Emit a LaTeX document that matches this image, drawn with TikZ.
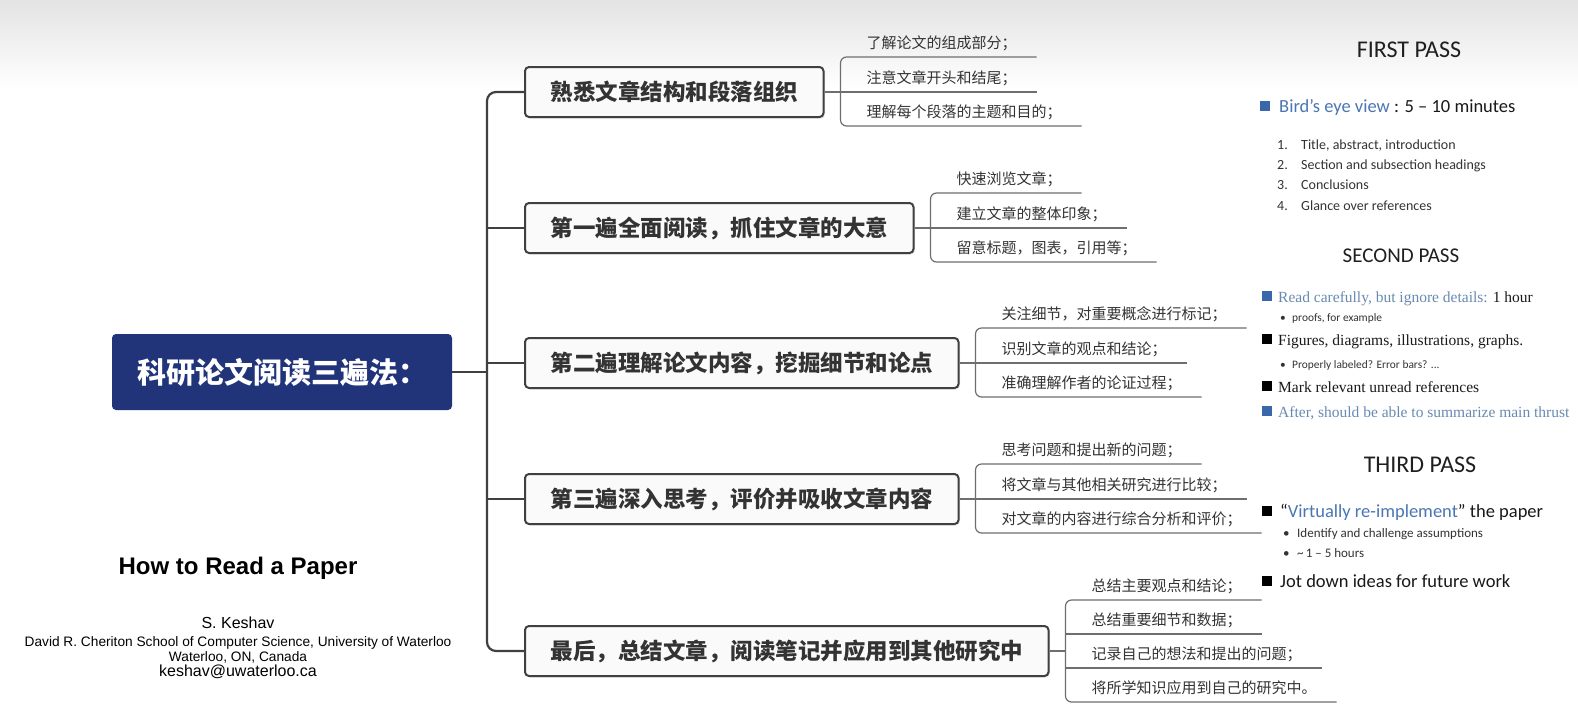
\documentclass[tikz,border=0pt]{standalone}
\usepackage{fontspec}
\usepackage{tikz}
\usetikzlibrary{positioning,shadows}
\newfontfamily\cjk{Noto Sans CJK SC}
\newfontfamily\calib{Carlito}
\newfontfamily\antiq{Liberation Serif}
\newfontfamily\helv{Liberation Sans}
\definecolor{rootblue}{RGB}{33,52,122}
\definecolor{linegrey}{RGB}{64,64,64}
\definecolor{twiggrey}{RGB}{110,110,110}
\definecolor{txtgrey}{RGB}{51,51,51}
\definecolor{slideblue}{RGB}{74,118,180}
\definecolor{serifblue}{RGB}{104,138,178}
\definecolor{sqblue}{RGB}{58,102,170}
\tikzset{
  rootbox/.style={fill=rootblue,rounded corners=4pt,text=white,minimum width=340pt,
                  minimum height=76pt,font=\cjk\bfseries\fontsize{29}{34}\selectfont},
  branchbox/.style={draw=linegrey,line width=2pt,fill=black!2,rounded corners=4pt,anchor=west,
                    minimum height=50pt,inner xsep=25.5pt,text=txtgrey,
                    font=\cjk\bfseries\fontsize{22.5}{27}\selectfont,
                    drop shadow={opacity=.18,shadow xshift=1.5pt,shadow yshift=-1.5pt}},
  stem/.style={draw=linegrey,line width=2.2pt,rounded corners=9pt},
  leaf/.style={anchor=south west,inner xsep=0pt,inner ysep=7pt,text depth=2pt,outer sep=0pt,
               text=txtgrey,font=\cjk\fontsize{15}{18}\selectfont},
  twig/.style={draw=twiggrey,line width=1.2pt,rounded corners=6pt},
  slidehead/.style={anchor=base,inner sep=0pt,text=black!88,font=\calib\fontsize{24}{28}\selectfont},
  bigline/.style={anchor=base west,inner sep=0pt,text=black!90,font=\calib\fontsize{18.5}{22}\selectfont},
  numline/.style={anchor=base west,inner sep=0pt,text=black!80,font=\calib\fontsize{14}{17}\selectfont},
  serifline/.style={anchor=base west,inner sep=0pt,text=black!90,font=\antiq\fontsize{15.5}{19}\selectfont},
  subline/.style={anchor=base west,inner sep=0pt,text=black!80,font=\calib\fontsize{11.4}{13}\selectfont},
  sq/.style={fill=#1,minimum size=10pt,inner sep=0pt},
  credit/.style={anchor=base,inner sep=0pt,text=black,font=\helv\fontsize{#1}{#1}\selectfont}
}

\begin{document}
\begin{tikzpicture}[x=1pt,y=-1pt]
  \useasboundingbox (0,0) rectangle (1578,721);
  \fill[white] (0,0) rectangle (1578,721);
  \shade[top color=black!11,bottom color=white] (0,0) rectangle (1578,88);

  % mind map
  \node[rootbox] (root) at (282,372) {科研论文阅读三遍法：};
  \node[branchbox] (b1) at (524,92) {熟悉文章结构和段落组织};
  \node[branchbox] (b2) at (524,228) {第一遍全面阅读，抓住文章的大意};
  \node[branchbox] (b3) at (524,363) {第二遍理解论文内容，挖掘细节和论点};
  \node[branchbox] (b4) at (524,499) {第三遍深入思考，评价并吸收文章内容};
  \node[branchbox] (b5) at (524,651) {最后，总结文章，阅读笔记并应用到其他研究中};

  \coordinate (tr) at (487,372);
  \draw[stem] (b1.west) -- (b1.west -| tr) -- (b5.west -| tr) -- (b5.west);
  \draw[stem] (b2.west -| tr) -- (b2.west);
  \draw[stem] (b3.west -| tr) -- (b3.west);
  \draw[stem] (b4.west -| tr) -- (b4.west);
  \draw[stem] (root.east) -- (root.east -| tr);

  % leaves of b1
  \node[leaf] (i11) at ([xshift=42pt,yshift=35pt]b1.east) {了解论文的组成部分；};
  \node[leaf] (i12) at ([xshift=42pt]b1.east) {注意文章开头和结尾；};
  \node[leaf] (i13) at ([xshift=42pt,yshift=-34pt]b1.east) {理解每个段落的主题和目的；};
  \coordinate (k1) at ([xshift=16pt]b1.east);
  \draw[twig] ([xshift=20pt]i11.south east) -- (k1 |- i11.south) -- (k1 |- i13.south) -- ([xshift=20pt]i13.south east);
  \draw[twig] (b1.east) -- ([xshift=20pt]i12.south east);

  % leaves of b2
  \node[leaf] (i21) at ([xshift=42pt,yshift=35pt]b2.east) {快速浏览文章；};
  \node[leaf] (i22) at ([xshift=42pt]b2.east) {建立文章的整体印象；};
  \node[leaf] (i23) at ([xshift=42pt,yshift=-34pt]b2.east) {留意标题，图表，引用等；};
  \coordinate (k2) at ([xshift=16pt]b2.east);
  \draw[twig] ([xshift=20pt]i21.south east) -- (k2 |- i21.south) -- (k2 |- i23.south) -- ([xshift=20pt]i23.south east);
  \draw[twig] (b2.east) -- ([xshift=20pt]i22.south east);

  % leaves of b3
  \node[leaf] (i31) at ([xshift=42pt,yshift=35pt]b3.east) {关注细节，对重要概念进行标记；};
  \node[leaf] (i32) at ([xshift=42pt]b3.east) {识别文章的观点和结论；};
  \node[leaf] (i33) at ([xshift=42pt,yshift=-34pt]b3.east) {准确理解作者的论证过程；};
  \coordinate (k3) at ([xshift=16pt]b3.east);
  \draw[twig] ([xshift=20pt]i31.south east) -- (k3 |- i31.south) -- (k3 |- i33.south) -- ([xshift=20pt]i33.south east);
  \draw[twig] (b3.east) -- ([xshift=20pt]i32.south east);

  % leaves of b4
  \node[leaf] (i41) at ([xshift=42pt,yshift=35pt]b4.east) {思考问题和提出新的问题；};
  \node[leaf] (i42) at ([xshift=42pt]b4.east) {将文章与其他相关研究进行比较；};
  \node[leaf] (i43) at ([xshift=42pt,yshift=-34pt]b4.east) {对文章的内容进行综合分析和评价；};
  \coordinate (k4) at ([xshift=16pt]b4.east);
  \draw[twig] ([xshift=20pt]i41.south east) -- (k4 |- i41.south) -- (k4 |- i43.south) -- ([xshift=20pt]i43.south east);
  \draw[twig] (b4.east) -- ([xshift=20pt]i42.south east);

  % leaves of b5
  \node[leaf] (i51) at ([xshift=42pt,yshift=51pt]b5.east) {总结主要观点和结论；};
  \node[leaf] (i52) at ([xshift=42pt,yshift=17pt]b5.east) {总结重要细节和数据；};
  \node[leaf] (i53) at ([xshift=42pt,yshift=-17pt]b5.east) {记录自己的想法和提出的问题；};
  \node[leaf] (i54) at ([xshift=42pt,yshift=-51pt]b5.east) {将所学知识应用到自己的研究中。};
  \coordinate (k5) at ([xshift=16pt]b5.east);
  \draw[twig] ([xshift=20pt]i51.south east) -- (k5 |- i51.south) -- (k5 |- i54.south) -- ([xshift=20pt]i54.south east);
  \draw[twig] (k5 |- i52.south) -- ([xshift=20pt]i52.south east);
  \draw[twig] (k5 |- i53.south) -- ([xshift=20pt]i53.south east);
  \draw[twig] (b5.east) -- (k5);

  % first pass
  \node[slidehead] (fp) at (1409,57) {FIRST PASS};
  \node[sq=sqblue] (fq) at (1265,106) {};
  \node[bigline] (fa) at (1279,112) {\textcolor{slideblue}{Bird’s eye view} : 5 – 10 minutes};
  \node[numline] (f1) at (1277,149) {\makebox[24pt][l]{1.}Title, abstract, introduction};
  \node[numline] (f2) at (1277,169) {\makebox[24pt][l]{2.}Section and subsection headings};
  \node[numline] (f3) at (1277,189) {\makebox[24pt][l]{3.}Conclusions};
  \node[numline] (f4) at (1277,210) {\makebox[24pt][l]{4.}Glance over references};

  % second pass
  \node[slidehead,font=\calib\fontsize{21}{25}\selectfont] (sp) at (1401,262) {SECOND PASS};
  \node[sq=sqblue] (sq1) at (1267,296) {};
  \node[serifline] (sa) at (1278,302) {\textcolor{serifblue}{Read carefully, but ignore details:} 1 hour};
  \node[subline] (sa1) at (1280,321) {\makebox[12pt][l]{•}proofs, for example};
  \node[sq=black] (sq2) at (1267,339) {};
  \node[serifline] (sb) at (1278,345) {Figures, diagrams, illustrations, graphs.};
  \node[subline] (sb1) at (1280,368) {\makebox[12pt][l]{•}Properly labeled? Error bars? ...};
  \node[sq=black] (sq3) at (1267,386) {};
  \node[serifline] (sc) at (1278,392) {Mark relevant unread references};
  \node[sq=sqblue] (sq4) at (1267,411) {};
  \node[serifline,text=serifblue] (sd) at (1278,417) {After, should be able to summarize main thrust};

  % third pass
  \node[slidehead] (tp) at (1420,472) {THIRD PASS};
  \node[sq=black] (tq1) at (1267,511) {};
  \node[bigline] (ta) at (1280,517) {“\textcolor{slideblue}{Virtually re-implement}” the paper};
  \node[subline,font=\calib\fontsize{13}{15}\selectfont] (ta1) at (1283,537) {\makebox[14pt][l]{•}Identify and challenge assumptions};
  \node[subline,font=\calib\fontsize{13}{15}\selectfont] (ta2) at (1283,557) {\makebox[14pt][l]{•}\textasciitilde\,1 – 5 hours};
  \node[sq=black] (tq2) at (1267,581) {};
  \node[bigline] (tb) at (1280,587) {Jot down ideas for future work};

  % paper credit
  \node[credit=24,font=\helv\bfseries\fontsize{24}{24}\selectfont] (ht) at (238,574) {How to Read a Paper};
  \node[credit=16] (au) at (238,628) {S. Keshav};
  \node[credit=13.7] (af) at (238,646) {David R. Cheriton School of Computer Science, University of Waterloo};
  \node[credit=13.7] (ad) at (238,661) {Waterloo, ON, Canada};
  \node[credit=16] (em) at (238,676) {keshav@uwaterloo.ca};
\end{tikzpicture}
\end{document}
